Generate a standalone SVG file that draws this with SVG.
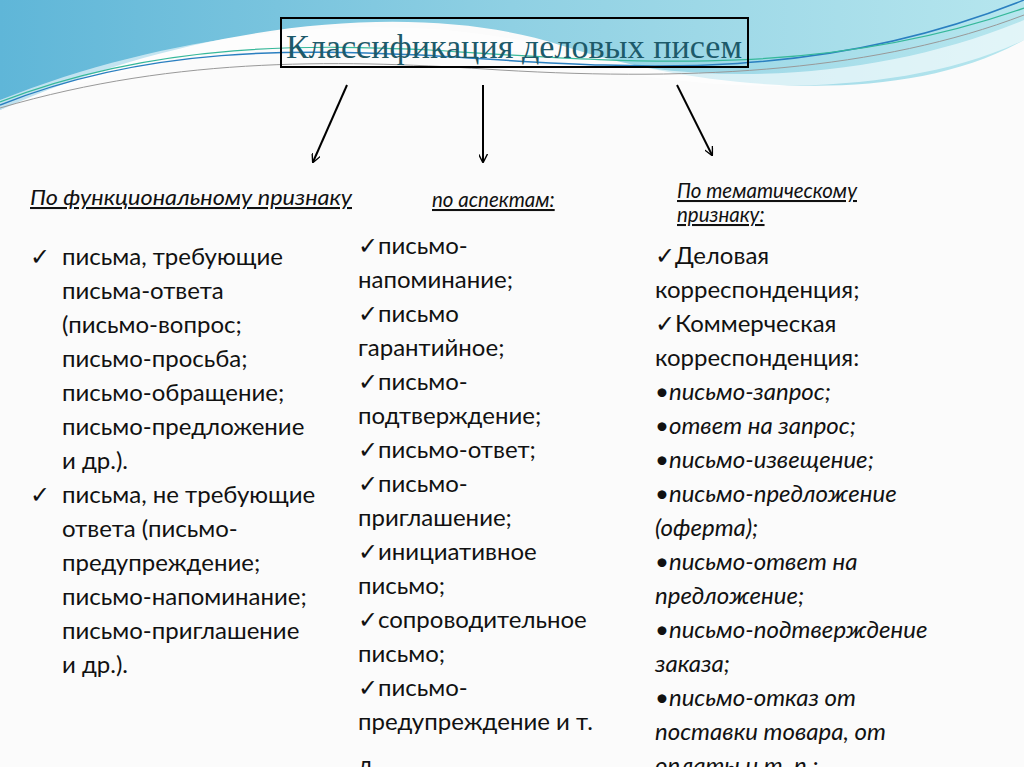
<svg xmlns="http://www.w3.org/2000/svg" width="1024" height="767" viewBox="0 0 1024 767">
<defs>
<linearGradient id="sky" x1="0" y1="0" x2="1" y2="0">
<stop offset="0" stop-color="#5fb6d8"/><stop offset="0.5" stop-color="#8fd0e3"/><stop offset="1" stop-color="#b6e6ee"/>
</linearGradient>
<marker id="ah" viewBox="0 0 10 10" refX="9" refY="5" markerWidth="9" markerHeight="9" orient="auto" markerUnits="userSpaceOnUse"><path d="M0,0 L10,5 L0,10" fill="none" stroke="#000" stroke-width="1.5"/></marker>
</defs>
<style>
.b{font-family:Lato,"Noto Sans",sans-serif;font-size:24px;fill:#111}
.i{font-style:italic}
.h{font-family:Lato,"Noto Sans",sans-serif;font-size:20.5px;font-style:italic;fill:#111;text-decoration:underline}
.c{stroke:#000;stroke-width:2;fill:none}
</style>
<rect width="1024" height="767" fill="#fbfbfb"/>
<g id="bg">
<path d="M0,0 H1024 V40 C900,110 700,90 560,45 C420,0 200,20 0,110 Z" fill="url(#sky)"/>
<path d="M0,100 C200,20 420,10 560,50 C700,90 880,80 1024,20 V40 C900,100 700,95 560,60 C420,25 200,35 0,110 Z" fill="#ffffff" opacity="0.6"/>
<path d="M0,105 C150,45 300,50 420,55 C600,65 800,90 1024,0" fill="none" stroke="#2a7fc0" stroke-width="1.5"/>
<path d="M0,102 C160,40 320,45 430,50 C620,62 820,80 1024,8" fill="none" stroke="#36b89a" stroke-width="1.2"/>
<path d="M0,108 C180,55 350,60 500,70 C700,82 880,70 1024,15" fill="none" stroke="#999" stroke-width="1"/>
</g>
<g id="title">
<rect x="281" y="18" width="467" height="49" fill="none" stroke="#000" stroke-width="2"/>
<text x="514" y="58" text-anchor="middle" font-family="'Liberation Serif',serif" font-size="34" textLength="456" lengthAdjust="spacingAndGlyphs" fill="#1d5a6a">Классификация деловых писем</text>
</g>
<g id="connectors">
<line class="c" x1="347" y1="85" x2="313" y2="162" marker-end="url(#ah)"/>
<line class="c" x1="483" y1="85" x2="483" y2="162" marker-end="url(#ah)"/>
<line class="c" x1="677" y1="85" x2="712" y2="155" marker-end="url(#ah)"/>
</g>
<g id="functional">
<text class="h" x="30" y="205" textLength="322" lengthAdjust="spacingAndGlyphs">По функциональному признаку</text>
<text class="b"><tspan x="30" y="265">✓</tspan><tspan x="62" y="265">письма, требующие</tspan><tspan x="62" y="299">письма-ответа</tspan><tspan x="62" y="333">(письмо-вопрос;</tspan><tspan x="62" y="367">письмо-просьба;</tspan><tspan x="62" y="401">письмо-обращение;</tspan><tspan x="62" y="435">письмо-предложение</tspan><tspan x="62" y="469">и др.).</tspan><tspan x="30" y="503">✓</tspan><tspan x="62" y="503">письма, не требующие</tspan><tspan x="62" y="537">ответа (письмо-</tspan><tspan x="62" y="571">предупреждение;</tspan><tspan x="62" y="605">письмо-напоминание;</tspan><tspan x="62" y="639">письмо-приглашение</tspan><tspan x="62" y="673">и др.).</tspan></text>
</g>
<g id="aspects">
<text class="h" x="432" y="207">по аспектам:</text>
<text class="b"><tspan x="358" y="254">✓письмо-</tspan><tspan x="358" y="288">напоминание;</tspan><tspan x="358" y="322">✓письмо</tspan><tspan x="358" y="356">гарантийное;</tspan><tspan x="358" y="390">✓письмо-</tspan><tspan x="358" y="424">подтверждение;</tspan><tspan x="358" y="458">✓письмо-ответ;</tspan><tspan x="358" y="492">✓письмо-</tspan><tspan x="358" y="526">приглашение;</tspan><tspan x="358" y="560">✓инициативное</tspan><tspan x="358" y="594">письмо;</tspan><tspan x="358" y="628">✓сопроводительное</tspan><tspan x="358" y="662">письмо;</tspan><tspan x="358" y="696">✓письмо-</tspan><tspan x="358" y="730">предупреждение и т.</tspan><tspan x="358" y="773">д.</tspan></text>
</g>
<g id="thematic">
<text class="h"><tspan x="677" y="198">По тематическому</tspan><tspan x="677" y="222">признаку:</tspan></text>
<text class="b"><tspan x="655" y="264">✓Деловая</tspan><tspan x="655" y="298">корреспонденция;</tspan><tspan x="655" y="332">✓Коммерческая</tspan><tspan x="655" y="366">корреспонденция:</tspan><tspan x="655" y="400">•<tspan class="i">письмо-запрос;</tspan></tspan><tspan x="655" y="434">•<tspan class="i">ответ на запрос;</tspan></tspan><tspan x="655" y="468">•<tspan class="i">письмо-извещение;</tspan></tspan><tspan x="655" y="502">•<tspan class="i">письмо-предложение</tspan></tspan><tspan class="i" x="655" y="536">(оферта);</tspan><tspan x="655" y="570">•<tspan class="i">письмо-ответ на</tspan></tspan><tspan class="i" x="655" y="604">предложение;</tspan><tspan x="655" y="638">•<tspan class="i">письмо-подтверждение</tspan></tspan><tspan class="i" x="655" y="672">заказа;</tspan><tspan x="655" y="706">•<tspan class="i">письмо-отказ от</tspan></tspan><tspan class="i" x="655" y="740">поставки товара, от</tspan><tspan class="i" x="655" y="774">оплаты и т. п.;</tspan></text>
</g>
</svg>
